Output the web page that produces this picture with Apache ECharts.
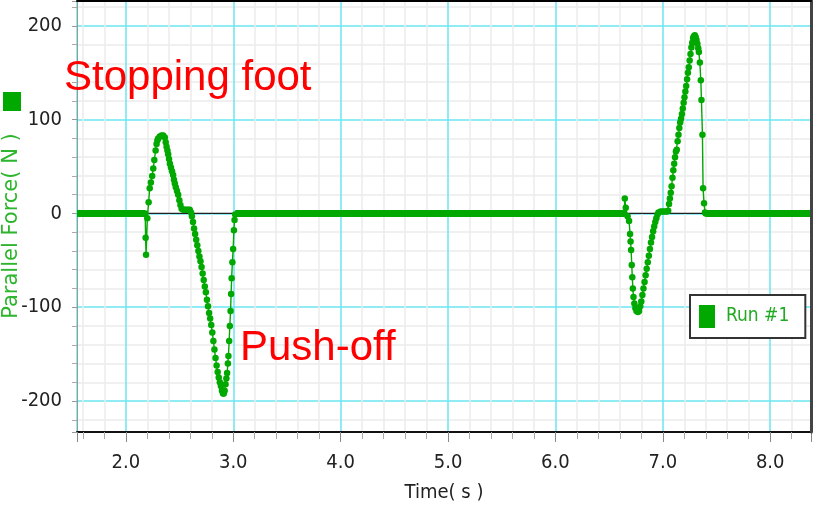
<!DOCTYPE html>
<html>
<head>
<meta charset="utf-8">
<script src="https://cdn.jsdelivr.net/npm/echarts@6/dist/echarts.min.js"></script>
<style>html,body{margin:0;padding:0;background:#fff;}#chart{width:817px;height:505px;}</style>
</head>
<body>
<div id="chart"></div>
<script>
// Axis ranges (seconds, newtons)
const timeRange = [1.545, 8.38];
const forceRange = [-233, 226.5];

// Periods where the sensor reads 0 N (start, end in seconds)
const restSegments = [[1.545, 2.180], [3.018, 6.640], [7.400, 8.38]];

// First foot contact: stopping foot then push-off
const step1Time = [2.180, 2.184, 2.188, 2.200, 2.212, 2.222, 2.233, 2.245, 2.255, 2.265, 2.277, 2.286, 2.294, 2.301, 2.316, 2.332, 2.348, 2.363, 2.371, 2.379, 2.387, 2.394, 2.402, 2.410, 2.420, 2.430, 2.440, 2.448, 2.456, 2.465, 2.476, 2.487, 2.498, 2.508, 2.519, 2.535, 2.550, 2.565, 2.580, 2.595, 2.607, 2.615, 2.625, 2.635, 2.645, 2.655, 2.665, 2.675, 2.685, 2.695, 2.705, 2.715, 2.725, 2.735, 2.745, 2.755, 2.765, 2.775, 2.785, 2.795, 2.805, 2.815, 2.825, 2.835, 2.845, 2.855, 2.865, 2.875, 2.885, 2.895, 2.905, 2.912, 2.920, 2.928, 2.936, 2.943, 2.950, 2.955, 2.962, 2.968, 2.975, 2.980, 2.985, 2.992, 2.999, 3.006, 3.012, 3.018];
const step1Force = [0, -26, -44, -5, 12, 27, 33, 40, 48, 57, 67, 74, 78, 80, 82, 83, 83, 81, 76, 71, 67, 63, 58, 53, 49, 45, 41, 36, 32, 28, 24, 20, 14, 9, 5, 4, 4, 4, 4, 4, 1, -3, -9, -16, -22, -28, -34, -40, -46, -51, -57, -64, -71, -78, -84, -92, -99, -106, -112, -119, -127, -136, -145, -154, -162, -169, -175, -180, -184, -189, -192, -192, -189, -182, -176, -170, -160, -152, -136, -120, -104, -86, -69, -52, -38, -18, -7, -1];

// Second foot contact
const step2Time = [6.640, 6.646, 6.655, 6.672, 6.686, 6.695, 6.700, 6.705, 6.711, 6.716, 6.721, 6.727, 6.735, 6.745, 6.755, 6.768, 6.779, 6.790, 6.800, 6.810, 6.820, 6.830, 6.840, 6.850, 6.860, 6.870, 6.880, 6.890, 6.900, 6.910, 6.920, 6.930, 6.940, 6.950, 6.960, 6.980, 7.000, 7.020, 7.040, 7.050, 7.058, 7.066, 7.074, 7.082, 7.090, 7.098, 7.106, 7.114, 7.122, 7.130, 7.138, 7.146, 7.154, 7.162, 7.170, 7.178, 7.186, 7.194, 7.202, 7.210, 7.218, 7.226, 7.234, 7.242, 7.250, 7.258, 7.266, 7.274, 7.282, 7.290, 7.298, 7.306, 7.314, 7.322, 7.330, 7.336, 7.345, 7.354, 7.360, 7.369, 7.375, 7.384, 7.393, 7.400];
const step2Force = [0, 16, 6, -3, -8, -22, -30, -39, -55, -68, -80, -89, -96, -101, -104, -105, -104, -99, -94, -87, -80, -73, -66, -59, -52, -45, -38, -31, -25, -19, -14, -9, -5, -1, 1, 2, 2, 2, 2, 3, 10, 16, 22, 29, 38, 46, 53, 60, 66, 68, 77, 84, 91, 97, 101, 106, 112, 118, 124, 130, 136, 143, 150, 156, 163, 170, 177, 182, 187, 189, 190, 188, 185, 181, 176, 172, 161, 142, 121, 84, 27, 11, 1, 0];

const tickFont = "'Liberation Sans Narrow', 'DejaVu Sans Condensed', 'Arial Narrow', sans-serif";
const green = '#00a800';

function pairs(ts, vs) { return ts.map((t, i) => [t, vs[i]]); }
const runData = pairs(step1Time, step1Force).concat([['-', '-']], pairs(step2Time, step2Force));
const restData = [];
const zeroGapData = [];
restSegments.forEach((s, i) => {
  if (i > 0) {
    restData.push(['-', '-']);
    if (zeroGapData.length) zeroGapData.push(['-', '-']);
    zeroGapData.push([restSegments[i - 1][1], 0], [s[0], 0]);
  }
  restData.push([s[0], 0], [s[1], 0]);
});

const chart = echarts.init(document.getElementById('chart'), null, {renderer: 'canvas'});
chart.setOption({
  animation: false,
  backgroundColor: '#ffffff',
  grid: {left: 77, right: 6, top: 1, bottom: 73, containLabel: false, outerBoundsMode: 'none'},
  legend: {
    data: ['Run #1'],
    left: 690, top: 295,
    icon: 'rect', itemWidth: 16, itemHeight: 23,
    backgroundColor: '#ffffff', borderColor: '#333333', borderWidth: 2,
    padding: [10, 16, 10, 9],
    textStyle: {color: '#22aa22', fontFamily: tickFont, fontSize: 19, padding: [0, 0, 0, 6]}
  },
  xAxis: [{
    type: 'value', min: timeRange[0], max: timeRange[1], splitNumber: 7,
    name: 'Time( s )', nameLocation: 'middle', nameGap: 51, nameMoveOverlap: false,
    nameTextStyle: {color: '#222', fontFamily: tickFont, fontSize: 20},
    axisLine: {show: true, onZero: false, lineStyle: {color: '#111', width: 2}},
    axisTick: {show: true, length: 10, lineStyle: {color: '#888'}},
    minorTick: {show: true, splitNumber: 5, length: 7, lineStyle: {color: '#aaa'}},
    axisLabel: {color: '#222', fontFamily: tickFont, fontSize: 20, margin: 21, showMinLabel: false, showMaxLabel: false,
      formatter: v => v.toFixed(1)},
    splitLine: {show: true, lineStyle: {color: '#6ae6f2', width: 1.5}},
    minorSplitLine: {show: true, lineStyle: {color: '#ececec', width: 1.5}}
  }, {
    type: 'value', position: 'top', min: timeRange[0], max: timeRange[1], z: 10,
    axisLine: {show: true, onZero: false, lineStyle: {color: '#000', width: 2}},
    axisTick: {show: false}, axisLabel: {show: false}, splitLine: {show: false}
  }],
  yAxis: [{
    type: 'value', min: forceRange[0], max: forceRange[1], splitNumber: 5,
    name: 'Parallel Force( N )', nameLocation: 'middle', nameGap: 55, nameMoveOverlap: false,
    nameTextStyle: {color: '#2db52d', fontFamily: 'DejaVu Sans', fontSize: 21, padding: [0, 19, 0, 0]},
    axisLine: {show: true, onZero: false, lineStyle: {color: '#999', width: 1}},
    axisTick: {show: true, length: 5, lineStyle: {color: '#999'}},
    minorTick: {show: true, splitNumber: 5, length: 5, lineStyle: {color: '#aaa'}},
    axisLabel: {color: '#222', fontFamily: tickFont, fontSize: 20, margin: 15, showMinLabel: false, showMaxLabel: false},
    splitLine: {show: true, lineStyle: {color: '#6ae6f2', width: 1.5}},
    minorSplitLine: {show: true, lineStyle: {color: '#ececec', width: 1.5}}
  }, {
    type: 'value', position: 'right', min: forceRange[0], max: forceRange[1], z: 10,
    axisLine: {show: true, onZero: false, lineStyle: {color: '#444', width: 3}},
    axisTick: {show: false}, axisLabel: {show: false}, splitLine: {show: false}
  }],
  series: [{
    name: 'zero', type: 'line', silent: true, symbol: 'none', connectNulls: false,
    data: zeroGapData,
    lineStyle: {color: '#222', width: 1.2}
  }, {
    name: 'rest', type: 'line', silent: true, symbol: 'none', connectNulls: false,
    data: restData,
    lineStyle: {color: green, width: 7, cap: 'butt'}
  }, {
    name: 'Run #1', type: 'line', connectNulls: false,
    data: runData,
    symbol: 'circle', symbolSize: 6.5, showSymbol: true, showAllSymbol: true,
    itemStyle: {color: green},
    lineStyle: {color: green, width: 1.4}
  }],
  graphic: [
    {type: 'rect', left: 3, top: 92, z: 100, shape: {width: 18, height: 19}, style: {fill: green}},
    {type: 'text', left: 64, top: 57, z: 100, style: {text: 'Stopping foot', fill: '#ff0000', font: "42px 'Liberation Sans', Arial, sans-serif"}},
    {type: 'text', left: 240, top: 327, z: 100, style: {text: 'Push-off', fill: '#ff0000', font: "42px 'Liberation Sans', Arial, sans-serif"}}
  ]
});
</script>
</body>
</html>
